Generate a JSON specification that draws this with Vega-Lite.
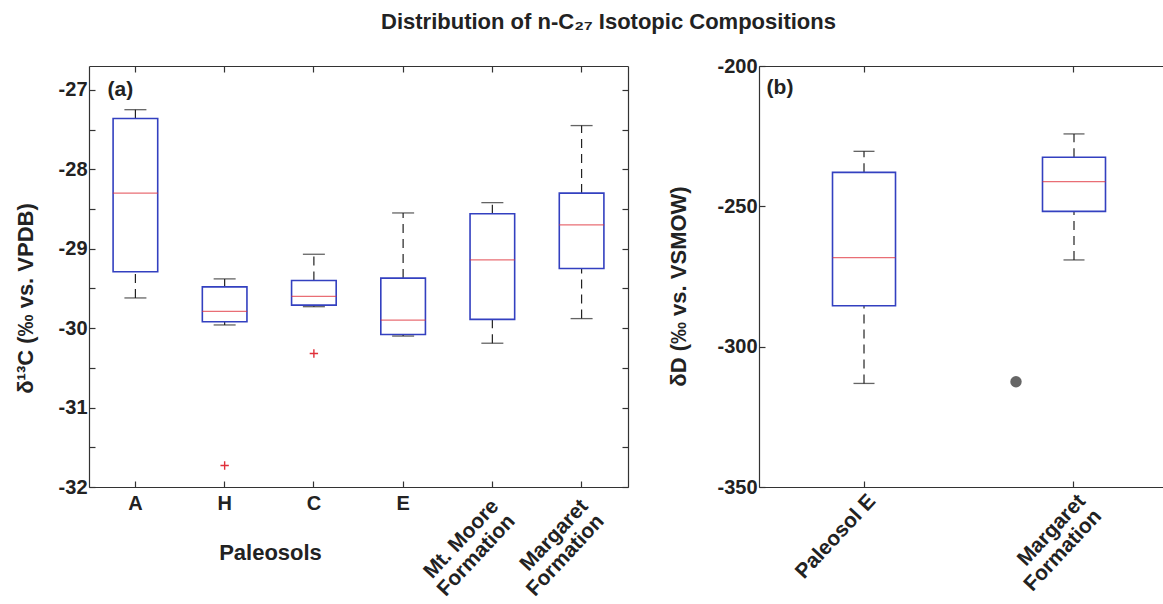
{
  "$schema": "https://vega.github.io/schema/vega-lite/v6.json",
  "padding": {"left": 14, "top": 11, "right": 0, "bottom": 0},
  "background": "white",
  "title": {"text": "Distribution of n-C₂₇ Isotopic Compositions", "font": "Liberation Sans", "fontSize": 22, "fontWeight": "bold", "color": "#222", "anchor": "middle", "offset": 22, "dx": 16},
  "config": {
    "view": {"stroke": null},
    "font": "Liberation Sans",
    "axis": {"domainColor": "#333", "tickColor": "#333", "labelColor": "#222", "titleColor": "#222", "labelFont": "Liberation Sans", "titleFont": "Liberation Sans", "grid": false, "labelLimit": 0, "domainWidth": 1.2, "tickWidth": 1.2}
  },
  "spacing": 38,
  "hconcat": [
    {
      "width": 539,
      "height": 421,
      "data": {"values": [
        {"group": "A", "lower": -29.62, "q1": -29.29, "median": -28.30, "q3": -27.36, "upper": -27.25},
        {"group": "H", "lower": -29.96, "q1": -29.92, "median": -29.79, "q3": -29.48, "upper": -29.38},
        {"group": "C", "lower": -29.73, "q1": -29.71, "median": -29.60, "q3": -29.40, "upper": -29.07},
        {"group": "E", "lower": -30.10, "q1": -30.08, "median": -29.90, "q3": -29.37, "upper": -28.55},
        {"group": "Mt. Moore Formation", "lower": -30.19, "q1": -29.89, "median": -29.14, "q3": -28.56, "upper": -28.42},
        {"group": "Margaret Formation", "lower": -29.88, "q1": -29.25, "median": -28.70, "q3": -28.30, "upper": -27.45}
      ]},
      "resolve": {"scale": {"x": "shared", "y": "shared"}, "axis": {"x": "independent", "y": "independent"}},
      "layer": [
        {
          "mark": {"type": "rule", "strokeDash": [9, 6], "color": "#222", "strokeWidth": 1.2},
          "encoding": {
            "x": {"field": "group", "type": "nominal",
              "scale": {"domain": ["A", "H", "C", "E", "Mt. Moore Formation", "Margaret Formation"], "paddingInner": 0.5, "paddingOuter": 0.27, "align": 0.5},
              "axis": {"orient": "bottom", "offset": 0, "title": "Paleosols", "titleFontSize": 22, "titleFontWeight": "bold", "titleX": 181, "titleY": 72, "titleAlign": "center", "titleBaseline": "alphabetic",
                "labelFontSize": 20, "labelFontWeight": "bold", "tickSize": -6, "labelPadding": 12, "labelOverlap": false, "labelAngle": 0, "labelAlign": "center", "labelBaseline": "top",
                "labelExpr": "indexof(['A','H','C','E'], datum.value) >= 0 ? datum.label : ''"}},
            "y": {"field": "lower", "type": "quantitative",
              "scale": {"domain": [-32, -26.7], "nice": false, "zero": false},
              "axis": {"orient": "left", "title": "δ¹³C (‰ vs. VPDB)", "titleFontSize": 22, "titleFontWeight": "bold", "titleX": -57, "titleY": 232, "titleAlign": "center", "titleBaseline": "alphabetic", "titleAngle": 270,
                "values": [-32, -31.5, -31, -30.5, -30, -29.5, -29, -28.5, -28, -27.5, -27],
                "labelExpr": "datum.value % 1 == 0 ? '' + datum.value : ''",
                "labelFontSize": 20, "labelFontWeight": "bold", "tickSize": -6, "labelPadding": 8}},
            "y2": {"field": "q1"}
          }
        },
        {
          "mark": {"type": "rule", "strokeDash": [9, 6], "color": "#222", "strokeWidth": 1.2},
          "encoding": {
            "x": {"field": "group", "type": "nominal", "axis": {"orient": "top", "labels": false, "title": null, "tickSize": -6}},
            "y": {"field": "q3", "type": "quantitative",
              "axis": {"orient": "right", "labels": false, "title": null, "tickSize": -6,
                "values": [-32, -31.5, -31, -30.5, -30, -29.5, -29, -28.5, -28, -27.5, -27]}},
            "y2": {"field": "upper"}
          }
        },
        {
          "mark": {"type": "bar", "fill": "white", "stroke": "#3340c0", "strokeWidth": 1.6},
          "encoding": {
            "x": {"field": "group", "type": "nominal",
              "axis": {"orient": "bottom", "offset": 0, "title": null, "domain": false, "ticks": false,
                "labelFontSize": 21, "labelFontWeight": "bold", "labelPadding": 8, "labelOffset": -5, "labelOverlap": false, "labelLineHeight": 22, "labelAngle": -47, "labelAlign": "right", "labelBaseline": "top",
                "labelExpr": "datum.value == 'Mt. Moore Formation' ? ['Mt. Moore', 'Formation'] : datum.value == 'Margaret Formation' ? ['Margaret', 'Formation'] : ''"}},
            "y": {"field": "q1", "type": "quantitative", "axis": null},
            "y2": {"field": "q3"}
          }
        },
        {
          "mark": {"type": "tick", "color": "#e0303a", "thickness": 1.3, "size": 45},
          "encoding": {
            "x": {"field": "group", "type": "nominal", "axis": null},
            "y": {"field": "median", "type": "quantitative", "axis": null}
          }
        },
        {
          "mark": {"type": "tick", "color": "#222", "thickness": 1.3, "size": 22},
          "encoding": {
            "x": {"field": "group", "type": "nominal", "axis": null},
            "y": {"field": "lower", "type": "quantitative", "axis": null}
          }
        },
        {
          "mark": {"type": "tick", "color": "#222", "thickness": 1.3, "size": 22},
          "encoding": {
            "x": {"field": "group", "type": "nominal", "axis": null},
            "y": {"field": "upper", "type": "quantitative", "axis": null}
          }
        },
        {
          "data": {"values": [
            {"group": "H", "value": -31.73},
            {"group": "C", "value": -30.32}
          ]},
          "mark": {"type": "point", "shape": "M-1,0H1M0,-1V1", "filled": false, "stroke": "#e0303a", "strokeWidth": 1.4, "size": 70, "opacity": 1},
          "encoding": {
            "x": {"field": "group", "type": "nominal", "axis": null},
            "y": {"field": "value", "type": "quantitative", "axis": null}
          }
        },
        {
          "data": {"values": [{"group": "A", "value": -27.0, "label": "(a)"}]},
          "mark": {"type": "text", "dx": -15, "fontSize": 21, "fontWeight": "bold", "color": "#222", "align": "center", "baseline": "middle"},
          "encoding": {
            "x": {"field": "group", "type": "nominal", "axis": null},
            "y": {"field": "value", "type": "quantitative", "axis": null},
            "text": {"field": "label"}
          }
        }
      ]
    },
    {
      "width": 412,
      "height": 421,
      "data": {"values": [
        {"group": "Paleosol E", "lower": -313.1, "q1": -285.4, "median": -268.3, "q3": -237.9, "upper": -230.4},
        {"group": "Margaret Formation", "lower": -269.1, "q1": -251.8, "median": -241.2, "q3": -232.5, "upper": -224.2}
      ]},
      "resolve": {"scale": {"x": "shared", "y": "shared"}, "axis": {"x": "independent", "y": "independent"}},
      "layer": [
        {
          "mark": {"type": "rule", "strokeDash": [9, 6], "color": "#222", "strokeWidth": 1.2},
          "encoding": {
            "x": {"field": "group", "type": "nominal",
              "scale": {"domain": ["Paleosol E", "Margaret Formation"], "paddingInner": 0.7, "paddingOuter": 0.331, "align": 0.5288},
              "axis": {"orient": "bottom", "title": null,
                "labelFontSize": 21, "labelFontWeight": "bold", "tickSize": -6, "labelPadding": 9, "labelOffset": 0, "labelOverlap": false, "labelLineHeight": 22, "labelAngle": -47, "labelAlign": "right", "labelBaseline": "top",
                "labelExpr": "datum.value == 'Margaret Formation' ? ['Margaret', 'Formation'] : datum.label"}},
            "y": {"field": "lower", "type": "quantitative",
              "scale": {"domain": [-350, -200], "nice": false, "zero": false},
              "axis": {"orient": "left", "title": "δD (‰ vs. VSMOW)", "titleFontSize": 22, "titleFontWeight": "bold", "titleX": -74, "titleY": 220, "titleAlign": "center", "titleBaseline": "alphabetic", "titleAngle": 270,
                "values": [-350, -300, -250, -200],
                "labelExpr": "'' + datum.value",
                "labelFontSize": 20, "labelFontWeight": "bold", "tickSize": -6, "labelPadding": 8}},
            "y2": {"field": "q1"}
          }
        },
        {
          "mark": {"type": "rule", "strokeDash": [9, 6], "color": "#222", "strokeWidth": 1.2},
          "encoding": {
            "x": {"field": "group", "type": "nominal", "axis": {"orient": "top", "labels": false, "title": null, "tickSize": -6}},
            "y": {"field": "q3", "type": "quantitative", "axis": null},
            "y2": {"field": "upper"}
          }
        },
        {
          "mark": {"type": "bar", "fill": "white", "stroke": "#3340c0", "strokeWidth": 1.6},
          "encoding": {
            "x": {"field": "group", "type": "nominal", "axis": null},
            "y": {"field": "q1", "type": "quantitative", "axis": null},
            "y2": {"field": "q3"}
          }
        },
        {
          "mark": {"type": "tick", "color": "#e0303a", "thickness": 1.3, "size": 63},
          "encoding": {
            "x": {"field": "group", "type": "nominal", "axis": null},
            "y": {"field": "median", "type": "quantitative", "axis": null}
          }
        },
        {
          "mark": {"type": "tick", "color": "#222", "thickness": 1.3, "size": 21},
          "encoding": {
            "x": {"field": "group", "type": "nominal", "axis": null},
            "y": {"field": "lower", "type": "quantitative", "axis": null}
          }
        },
        {
          "mark": {"type": "tick", "color": "#222", "thickness": 1.3, "size": 21},
          "encoding": {
            "x": {"field": "group", "type": "nominal", "axis": null},
            "y": {"field": "upper", "type": "quantitative", "axis": null}
          }
        },
        {
          "data": {"values": [{"group": "Margaret Formation", "value": -312.5}]},
          "mark": {"type": "point", "shape": "circle", "filled": true, "color": "#666", "size": 130, "opacity": 1, "xOffset": -58},
          "encoding": {
            "x": {"field": "group", "type": "nominal", "axis": null},
            "y": {"field": "value", "type": "quantitative", "axis": null}
          }
        },
        {
          "data": {"values": [{"group": "Paleosol E", "value": -207.7, "label": "(b)"}]},
          "mark": {"type": "text", "dx": -84, "fontSize": 21, "fontWeight": "bold", "color": "#222", "align": "center", "baseline": "middle"},
          "encoding": {
            "x": {"field": "group", "type": "nominal", "axis": null},
            "y": {"field": "value", "type": "quantitative", "axis": null},
            "text": {"field": "label"}
          }
        }
      ]
    }
  ]
}
